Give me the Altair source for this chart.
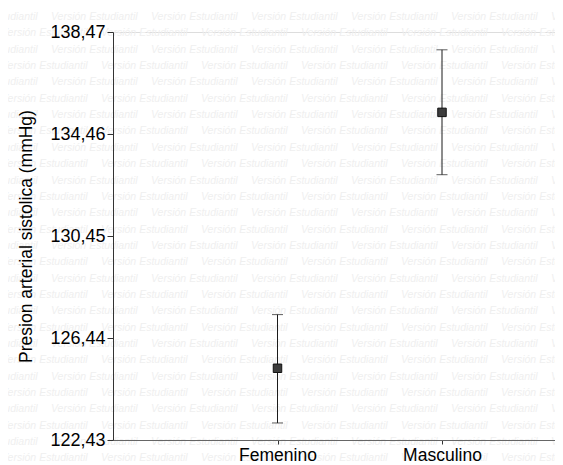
import altair as alt
import pandas as pd

categories = ["Femenino", "Masculino"]
positions = [1, 2]
means = [125.25, 135.31]
lower = [123.10, 132.86]
upper = [127.36, 137.77]
y_ticks = [122.43, 126.44, 130.45, 134.46, 138.47]

df = pd.DataFrame({"pos": positions, "cat": categories, "mean": means,
                   "lo": lower, "hi": upper})

W, H = 442, 408
X_MAX = W / 164.5
Y_MIN, Y_MAX = 122.43, 138.47

# watermark "Versión Estudiantil" tiled background, converted to data units
wm_rows = []
for k in range(29):
    py = 17 + 16.35 * k - 32
    start = 51 if k % 2 == 0 else 1
    for j in range(-1, 6):
        px = start + 100 * j - 113
        wm_rows.append({"wx": px * X_MAX / W,
                        "wy": Y_MAX - py * (Y_MAX - Y_MIN) / H,
                        "t": "Versión Estudiantil"})
wm = pd.DataFrame(wm_rows)

FONT = "Liberation Sans"

xscale = alt.Scale(domain=[0, X_MAX], nice=False, zero=False)
yscale = alt.Scale(domain=[Y_MIN, Y_MAX], nice=False, zero=False)

xaxis = alt.Axis(values=positions, title=None, orient="bottom",
                 labelExpr="datum.value == 1 ? 'Femenino' : (datum.value == 2 ? 'Masculino' : '')",
                 labelFont=FONT, labelFontSize=17.5, labelColor="#000000",
                 domainColor="#666666", tickColor="#333333", tickSize=4,
                 labelPadding=2, grid=False, zindex=1)
yaxis = alt.Axis(values=y_ticks, title="Presion arterial sistolica (mmHg)", orient="left",
                 labelExpr="replace(format(datum.value, '.2f'), '.', ',')",
                 labelFont=FONT, labelFontSize=18, labelColor="#000000",
                 titleFont=FONT, titleFontSize=17.5, titleFontWeight="normal",
                 titleColor="#000000", titlePadding=14,
                 domainColor="#333333", tickColor="#333333", tickSize=6,
                 labelPadding=2, grid=False, zindex=1)

watermark = alt.Chart(wm).mark_text(
    font=FONT, fontSize=10.5, fontStyle="italic", color="#efefef",
    align="left", baseline="middle", clip=False
).encode(
    x=alt.X("wx:Q", scale=xscale, axis=xaxis),
    y=alt.Y("wy:Q", scale=yscale, axis=yaxis),
    text="t:N",
)

base = alt.Chart(df)

rules = base.mark_rule(color="#1a1a1a", strokeWidth=1).encode(
    x=alt.X("pos:Q", scale=xscale, axis=xaxis),
    y=alt.Y("lo:Q", scale=yscale, axis=yaxis),
    y2="hi:Q",
)
cap_lo = base.mark_tick(orient="horizontal", size=11, thickness=1, color="#1a1a1a").encode(
    x=alt.X("pos:Q", scale=xscale, axis=xaxis), y=alt.Y("lo:Q", scale=yscale, axis=yaxis))
cap_hi = base.mark_tick(orient="horizontal", size=11, thickness=1, color="#1a1a1a").encode(
    x=alt.X("pos:Q", scale=xscale, axis=xaxis), y=alt.Y("hi:Q", scale=yscale, axis=yaxis))
points = base.mark_square(size=72, filled=True, color="#3c3c3c", stroke="#111111",
                          strokeWidth=1, opacity=1).encode(
    x=alt.X("pos:Q", scale=xscale, axis=xaxis), y=alt.Y("mean:Q", scale=yscale, axis=yaxis))

chart = alt.layer(watermark, rules, cap_lo, cap_hi, points).properties(
    width=W, height=H,
    autosize=alt.AutoSizeParams(type="none"),
    padding={"left": 105, "top": 24, "right": 0, "bottom": 25},
).configure_view(stroke=None, strokeWidth=0).configure(background="white")

chart.save("out.html", embed_options={"renderer": "svg", "actions": False})
